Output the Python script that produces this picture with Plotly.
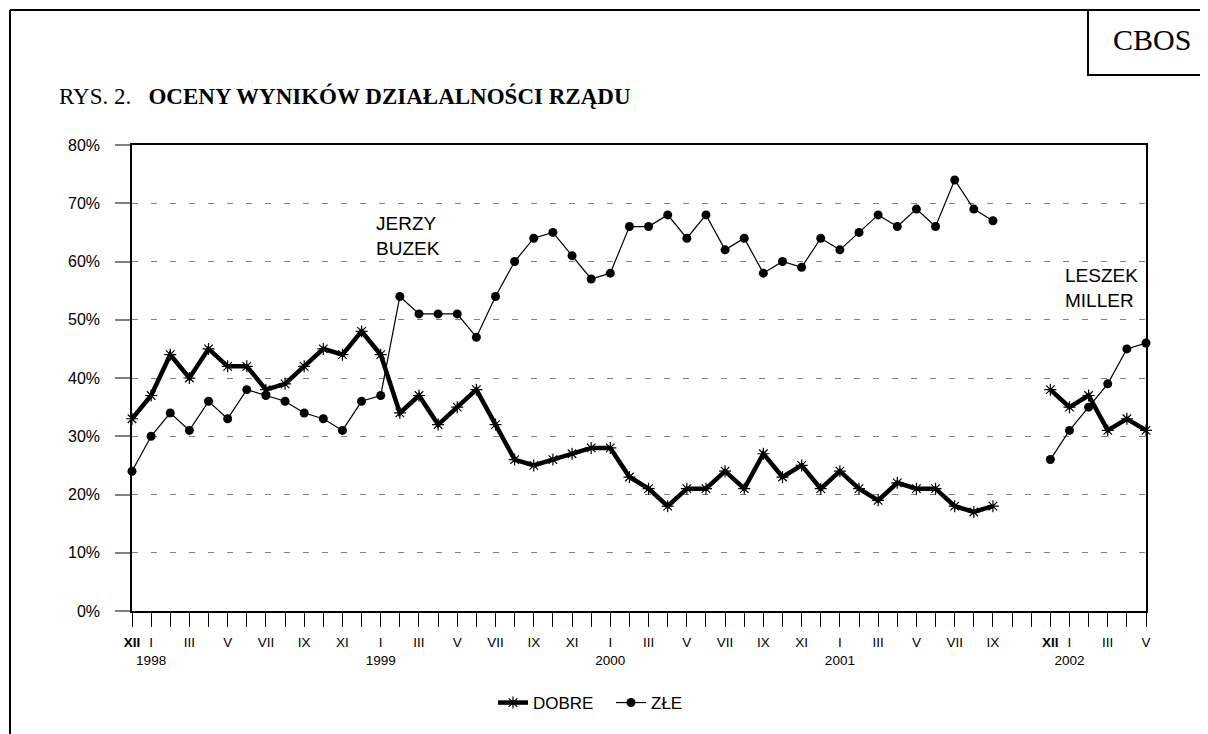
import plotly.graph_objects as go

# ---- data ----
months = ["XII", "I", "II", "III", "IV", "V", "VI", "VII", "VIII", "IX", "X", "XI",
          "XII", "I", "II", "III", "IV", "V", "VI", "VII", "VIII", "IX", "X", "XI",
          "XII", "I", "II", "III", "IV", "V", "VI", "VII", "VIII", "IX", "X", "XI",
          "XII", "I", "II", "III", "IV", "V", "VI", "VII", "VIII", "IX", "X", "XI",
          "XII", "I", "II", "III", "IV", "V"]
tick_labels = ["<b>XII</b>", "I<br>1998", "", "III", "", "V", "", "VII", "", "IX", "", "XI",
               "", "I<br>1999", "", "III", "", "V", "", "VII", "", "IX", "", "XI",
               "", "I<br>2000", "", "III", "", "V", "", "VII", "", "IX", "", "XI",
               "", "I<br>2001", "", "III", "", "V", "", "VII", "", "IX", "", "",
               "<b>XII</b>", "I<br>2002", "", "III", "", "V"]
dobre = [33, 37, 44, 40, 45, 42, 42, 38, 39, 42, 45, 44,
         48, 44, 34, 37, 32, 35, 38, 32, 26, 25, 26, 27,
         28, 28, 23, 21, 18, 21, 21, 24, 21, 27, 23, 25,
         21, 24, 21, 19, 22, 21, 21, 18, 17, 18, None, None,
         38, 35, 37, 31, 33, 31]
zle = [24, 30, 34, 31, 36, 33, 38, 37, 36, 34, 33, 31,
       36, 37, 54, 51, 51, 51, 47, 54, 60, 64, 65, 61,
       57, 58, 66, 66, 68, 64, 68, 62, 64, 58, 60, 59,
       64, 62, 65, 68, 66, 69, 66, 74, 69, 67, None, None,
       26, 31, 35, 39, 45, 46]
series_names = ["DOBRE", "ZŁE"]
x_idx = list(range(len(months)))

# ---- geometry helpers: page pixel -> paper (page has an 8px body margin) ----
OFF = 8
W, H = 1200, 726
L, R, T, B = 132 - OFF, 1146 - OFF, 145 - OFF, 611 - OFF
def px(x):
    return (x - OFF - L) / (R - L)
def py(y):
    return (B - (y - OFF)) / (B - T)

SANS = "Liberation Sans, Arial, sans-serif"
SERIF = "Liberation Serif, Times New Roman, serif"

fig = go.Figure()
fig.add_trace(go.Scatter(
    x=x_idx, y=dobre, name=series_names[0], mode="lines+markers",
    line=dict(color="black", width=4.5), connectgaps=False,
    marker=dict(symbol="asterisk-open", size=10, color="black",
                line=dict(color="black", width=1.2)),
    cliponaxis=False,
))
fig.add_trace(go.Scatter(
    x=x_idx, y=zle, name=series_names[1], mode="lines+markers",
    line=dict(color="black", width=1.2), connectgaps=False,
    marker=dict(symbol="circle", size=9, color="black"),
    cliponaxis=False,
))

shapes = [
    # outer frame (left and top)
    dict(type="line", xref="paper", yref="paper", x0=px(10), x1=px(10), y0=py(10), y1=py(760),
         line=dict(color="black", width=2)),
    dict(type="line", xref="paper", yref="paper", x0=px(10), x1=px(1230), y0=py(10), y1=py(10),
         line=dict(color="black", width=2)),
    # CBOS box
    dict(type="rect", xref="paper", yref="paper", x0=px(1088), x1=px(1230), y0=py(75), y1=py(10),
         line=dict(color="black", width=2), fillcolor="white"),
]

annotations = [
    dict(text="CBOS", xref="paper", yref="paper", x=px(1152), y=py(39), xanchor="center",
         yanchor="middle", showarrow=False, font=dict(family=SERIF, size=30, color="black")),
    dict(text="RYS. 2.   <b>OCENY WYNIKÓW DZIAŁALNOŚCI RZĄDU</b>", xref="paper", yref="paper",
         x=px(57), y=py(96), xanchor="left", yanchor="middle", showarrow=False,
         font=dict(family=SERIF, size=23, color="black")),
    dict(text="JERZY<br>BUZEK", xref="paper", yref="paper", x=px(374), y=py(211),
         xanchor="left", yanchor="top", align="left", showarrow=False,
         font=dict(family=SANS, size=19, color="black")),
    dict(text="LESZEK<br>MILLER", xref="paper", yref="paper", x=px(1063), y=py(263),
         xanchor="left", yanchor="top", align="left", showarrow=False,
         font=dict(family=SANS, size=19, color="black")),
]

fig.update_layout(
    width=W, height=H,
    margin=dict(l=L, r=W - R, t=T, b=H - B, pad=0),
    paper_bgcolor="white", plot_bgcolor="white",
    font=dict(family=SANS, color="black"),
    showlegend=True,
    legend=dict(orientation="h", x=px(493), y=py(703), xanchor="left", yanchor="middle",
                font=dict(family=SANS, size=17, color="black"), itemwidth=30,
                entrywidth=73, entrywidthmode="pixels",
                bgcolor="rgba(0,0,0,0)"),
    shapes=shapes,
    annotations=annotations,
    xaxis=dict(
        range=[0, len(months) - 1], tickmode="array", tickvals=x_idx, ticktext=tick_labels,
        showgrid=False, zeroline=False, showline=True, linecolor="black", linewidth=1.5,
        mirror=True, ticks="outside", ticklen=14, tickcolor="black", tickwidth=1,
        tickangle=0, tickfont=dict(family=SANS, size=13.5, color="black"),
        ticklabelstandoff=4,
    ),
    yaxis=dict(
        range=[0, 80], dtick=10, ticksuffix="%", showgrid=True, gridcolor="#808080",
        griddash="6px,13px", gridwidth=1, zeroline=False, showline=True, linecolor="black",
        linewidth=1.5, mirror=True, ticks="outside", ticklen=15, tickcolor="#808080",
        tickwidth=1.5, tickfont=dict(family=SANS, size=16, color="black"),
        ticklabelstandoff=12,
    ),
)

fig.write_html("out.html")
